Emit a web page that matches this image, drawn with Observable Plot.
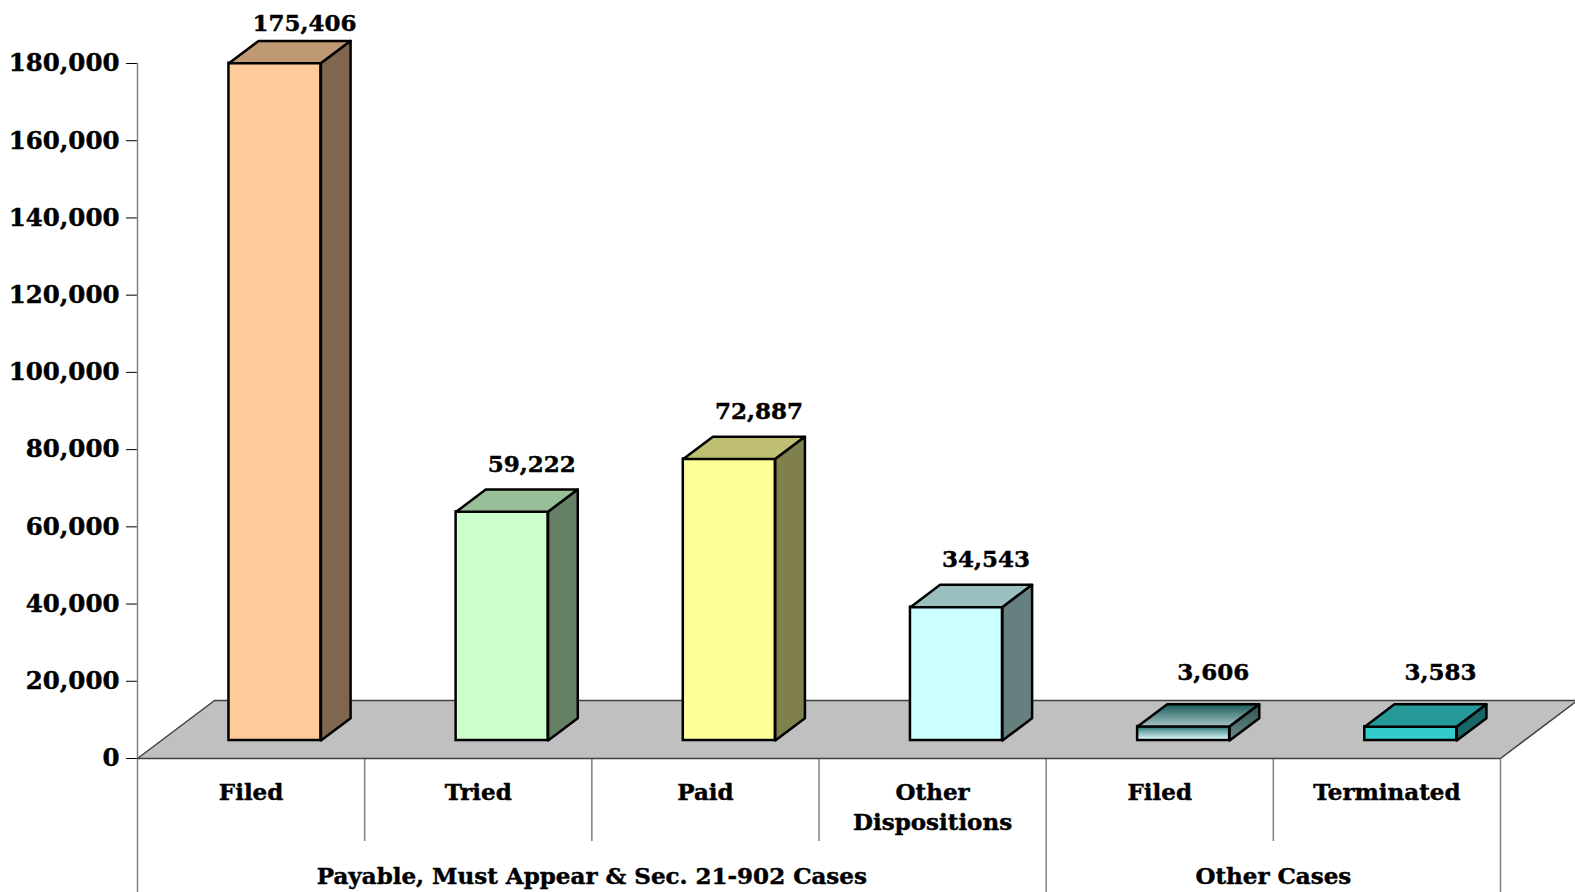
<!DOCTYPE html>
<html><head><meta charset="utf-8">
<script src="https://cdn.jsdelivr.net/npm/d3@7"></script>
<script src="https://cdn.jsdelivr.net/npm/@observablehq/plot@0.6"></script>
<style>
html,body{margin:0;padding:0;background:#fff;}
#chart{width:1575px;height:892px;overflow:hidden;}
#chart svg text{stroke:black;stroke-width:0.45px;}
</style></head><body><div id="chart"></div>
<script>
// ---- data ----
const categories = ["Filed", "Tried", "Paid", "Other\nDispositions", "Filed", "Terminated"];
const values = [175406, 59222, 72887, 34543, 3606, 3583];
const groupLabels = ["Payable, Must Appear & Sec. 21-902 Cases", "Other Cases"];
const groupStart = [0, 4];
const groupEnd = [4, 6];
const yTicks = [0, 20000, 40000, 60000, 80000, 100000, 120000, 140000, 160000, 180000];

// ---- palette ----
const frontColors = ["#FFCC99", "#CCFFCC", "#FFFF99", "#CCFFFF", "url(#gFront)", "#33CCCC"];
const topColors   = ["#BF9973", "#99BF99", "#BFBF73", "#99BFBF", "url(#gTop)", "#269999"];
const sideColors  = ["#80664D", "#668066", "#80804D", "#668080", "url(#gSide)", "#1A6666"];

// ---- layout ----
const W = 1575, H = 892, mL = 137, mR = 75, mT = 63, mB = 134;
const yMax = 180000;
const n = categories.length;
const ky = (H - mT - mB) / yMax;          // px per value unit
const kx = (W - mL - mR) / n;             // px per slot
const floorDx = 77 / kx, floorDy = 58 / ky; // floor depth in data units
const barFront = 0.31, barDepth = 0.385, barHalf = 0.2025;
const yBottom = -mB / ky;                 // bottom edge of the svg in data units
const shortDiv = -83 / ky;

// ---- derived geometry (from data, through scales) ----
const fX = floorDx * barFront, fY = floorDy * barFront;
const bX = floorDx * barDepth, bY = floorDy * barDepth;
const bars = values.map((v, i) => ({
  i, v,
  x1: i + 0.5 - barHalf + fX, x2: i + 0.5 + barHalf + fX,
  y1: fY, y2: v + fY,
  front: frontColors[i]
}));
const tops = [], sides = [];
bars.forEach(b => {
  [[b.x1, b.y2], [b.x2, b.y2], [b.x2 + bX, b.y2 + bY], [b.x1 + bX, b.y2 + bY]]
    .forEach(([x, y]) => tops.push({x, y, id: b.i, fill: topColors[b.i]}));
  [[b.x2, b.y1], [b.x2, b.y2], [b.x2 + bX, b.y2 + bY], [b.x2 + bX, b.y1 + bY]]
    .forEach(([x, y]) => sides.push({x, y, id: b.i, fill: sideColors[b.i]}));
});
const floorPts = [[0, 0], [n, 0], [n + floorDx, floorDy], [floorDx, floorDy]].map(([x, y]) => ({x, y}));
const minLabelBaseline = yMax + (mT - 30) / ky;
const labels = bars.map(b => ({
  x: (b.x1 + b.x2) / 2 + bX,
  y: Math.min(b.y2 + bY + (b.v < 10000 ? 24 : 18) / ky, minLabelBaseline),
  text: d3.format(",")(b.v)
}));
const catData = categories.map((c, i) => ({x: i + 0.5, text: c}));
const groupData = groupLabels.map((g, k) => ({x: (groupStart[k] + groupEnd[k]) / 2, text: g}));
const innerDividers = d3.range(1, n).filter(d => !groupStart.includes(d));
const outerDividers = [...groupStart.filter(d => d > 0), n];

const svg = Plot.plot({
  width: W, height: H,
  marginLeft: mL, marginRight: mR, marginTop: mT, marginBottom: mB,
  style: {fontFamily: "DejaVu Serif", fontSize: "24.5px", fontWeight: "bold", color: "black", background: "white"},
  x: {domain: [0, n], axis: null},
  y: {domain: [0, yMax], ticks: yTicks, tickFormat: d3.format(","), tickSize: 11, tickPadding: 7, label: null},
  color: {type: "identity"},
  marks: [
    Plot.ruleX([0], {y1: () => yMax, y2: () => yBottom, stroke: "#808080", strokeWidth: 1.5}),
    Plot.ruleX(innerDividers, {y1: () => 0, y2: () => shortDiv, stroke: "#808080", strokeWidth: 1.5}),
    Plot.ruleX(outerDividers, {y1: () => 0, y2: () => yBottom, stroke: "#808080", strokeWidth: 1.5}),
    Plot.line(floorPts, {x: "x", y: "y", fill: "#C0C0C0", stroke: "#404040", strokeWidth: 1.5, curve: "linear-closed"}),
    Plot.rect(bars, {x1: "x1", x2: "x2", y1: "y1", y2: "y2", fill: "front", stroke: "black", strokeWidth: 2.5}),
    Plot.line(tops, {x: "x", y: "y", z: "id", fill: "fill", stroke: "black", strokeWidth: 2.5, curve: "linear-closed", strokeLinejoin: "round"}),
    Plot.line(sides, {x: "x", y: "y", z: "id", fill: "fill", stroke: "black", strokeWidth: 2.5, curve: "linear-closed", strokeLinejoin: "round"}),
    Plot.text(labels, {x: "x", y: "y", text: "text", lineAnchor: "bottom", fontSize: 23, fill: "black"}),
    Plot.text(catData, {x: "x", y: () => 0, text: "text", lineAnchor: "top", dy: 20, lineHeight: 1.32, fontSize: 23, fill: "black"}),
    Plot.text(groupData, {x: "x", y: () => 0, text: "text", lineAnchor: "top", dy: 109, fontSize: 23, fill: "black"})
  ]
});

const defs = document.createElementNS("http://www.w3.org/2000/svg", "defs");
defs.innerHTML = `
<linearGradient id="gFront" x1="0" y1="0" x2="0" y2="1">
  <stop offset="0" stop-color="#1f6b6b"/><stop offset="0.35" stop-color="#6fa8a8"/><stop offset="1" stop-color="#eaffff"/>
</linearGradient>
<linearGradient id="gTop" x1="0" y1="0" x2="0" y2="1">
  <stop offset="0" stop-color="#1a5c5c"/><stop offset="1" stop-color="#a8c4c4"/>
</linearGradient>
<linearGradient id="gSide" x1="0" y1="0" x2="0" y2="1">
  <stop offset="0" stop-color="#2f5353"/><stop offset="1" stop-color="#6a8a8a"/>
</linearGradient>`;
svg.insertBefore(defs, svg.firstChild);
document.getElementById("chart").appendChild(svg);
</script>
</body></html>
